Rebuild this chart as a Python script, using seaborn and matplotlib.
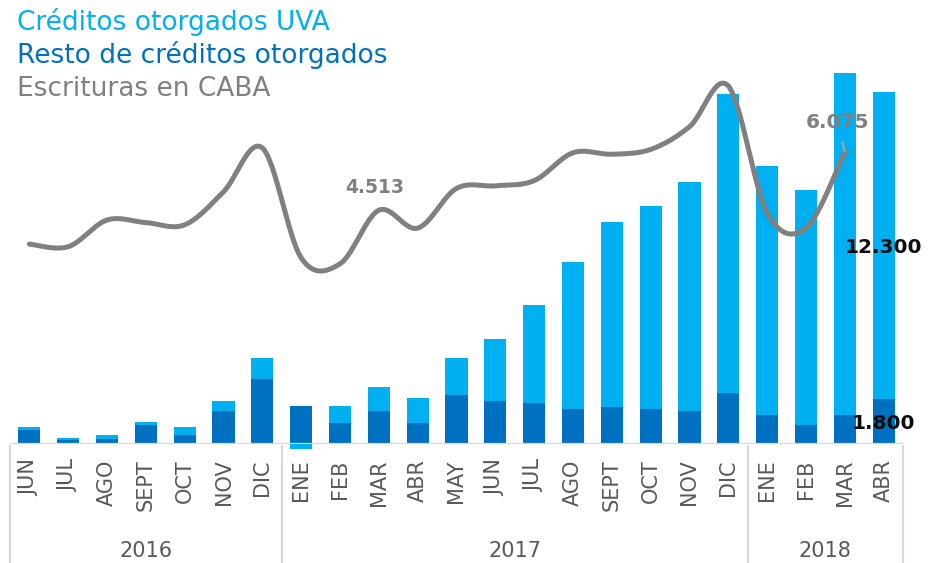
import numpy as np
import pandas as pd
import matplotlib
matplotlib.use("Agg")
import matplotlib.pyplot as plt
import matplotlib.transforms as mtransforms
import seaborn as sns

# ---- data -------------------------------------------------------------
months = ["JUN", "JUL", "AGO", "SEPT", "OCT", "NOV", "DIC",
          "ENE", "FEB", "MAR", "ABR", "MAY", "JUN", "JUL", "AGO", "SEPT", "OCT", "NOV", "DIC",
          "ENE", "FEB", "MAR", "ABR"]
years = ["2016"] * 7 + ["2017"] * 12 + ["2018"] * 4

# credits granted (units) by type
resto = [560, 160, 210, 770, 350, 1310, 2590,
         1520, 850, 1310, 850, 1950, 1730, 1630, 1410, 1490, 1410, 1310, 2050,
         1170, 770, 1170, 1800]
uva = [110, 80, 140, 110, 320, 410, 850,
       -180, 670, 960, 990, 1490, 2460, 3930, 5870, 7390, 8110, 9170, 11950,
       9950, 9390, 13680, 12300]

# deeds registered in CABA (no figure yet for the last month)
escrituras = [3600, 3530, 4250, 4180, 4120, 5010, 6190,
              3230, 3070, 4513, 4030, 5100, 5170, 5310, 6060, 6020, 6150, 6760, 7860,
              4440, 4030, 6075, None]

legend_items = ["Créditos otorgados UVA", "Resto de créditos otorgados", "Escrituras en CABA"]

# ---- style ------------------------------------------------------------
LIGHT = "#00B0F0"
DARK = "#0070C0"
GREY = "#808080"
TEXT = "#595959"
RULE = "#D9D9D9"

sns.set_theme(style="white")
plt.rcParams["font.family"] = ["DejaVu Sans"]


def fmt(v):
    return f"{int(v):,}".replace(",", ".")


def smooth_curve(values, steps=30):
    """Smoothed path through the points (cubic Bezier, Catmull-Rom handles)."""
    pts = np.column_stack([np.arange(len(values), dtype=float), np.asarray(values, dtype=float)])
    n = len(pts)
    t = np.linspace(0, 1, steps)[:, None]
    segs = []
    for i in range(n - 1):
        p0, p1 = pts[max(i - 1, 0)], pts[i]
        p2, p3 = pts[i + 1], pts[min(i + 2, n - 1)]
        c1 = p1 + (p2 - p0) / 6
        c2 = p2 - (p3 - p1) / 6
        seg = (1 - t) ** 3 * p1 + 3 * (1 - t) ** 2 * t * c1 + 3 * (1 - t) * t ** 2 * c2 + t ** 3 * p2
        segs.append(seg if i == 0 else seg[1:])
    return np.vstack(segs)


df = pd.DataFrame({
    "periodo": [f"{m} {y}" for m, y in zip(months, years)],
    "resto": resto,
    "uva": uva,
})
# negative values hang from zero, positive ones stack on top of "resto"
uva_base = np.where(np.array(uva) >= 0, np.array(resto), 0)

W, H = 942, 563
fig = plt.figure(figsize=(W / 100, H / 100), dpi=100)
ax = fig.add_axes([10 / W, (H - 444) / H, 893 / W, 404 / H])

# ---- stacked bars -----------------------------------------------------
sns.barplot(data=df, x="periodo", y="resto", color=DARK, saturation=1, width=0.57,
            errorbar=None, linewidth=0, ax=ax, zorder=2)
sns.barplot(data=df, x="periodo", y="uva", color=LIGHT, saturation=1, width=0.57,
            errorbar=None, linewidth=0, bottom=uva_base, ax=ax, zorder=2)
for p in ax.patches:
    p.set_clip_on(False)

n = len(months)
ax.set_xlim(-0.5, n - 0.5)
ax.set_ylim(0, 16160)
ax.set_xticks(range(n))
ax.set_xticklabels(months, rotation=90, color=TEXT, fontsize=15)
ax.tick_params(axis="x", length=0, pad=11)
ax.set_yticks([])
ax.set_xlabel("")
ax.set_ylabel("")
sns.despine(ax=ax, left=True, bottom=True)

ax.axhline(0, color=RULE, lw=1.6, zorder=3)

# year grouping under the month labels
trans = mtransforms.blended_transform_factory(ax.transData, fig.transFigure)
year_order = list(dict.fromkeys(years))
bounds = [-0.5]
for yr in year_order:
    idx = [i for i, y in enumerate(years) if y == yr]
    bounds.append(idx[-1] + 0.5)
    ax.text((idx[0] + idx[-1]) / 2, 6.3 / H, yr, transform=trans, ha="center", va="baseline",
            fontsize=15, color=TEXT)
for xb in bounds:
    ax.plot([xb, xb], [0, (H - 445) / H], transform=trans, color=RULE, lw=1.6,
            clip_on=False, solid_capstyle="butt")
ax.set_xlim(-0.5, n - 0.5)

# bar value labels on the last month
last = n - 1
ax.text(last, resto[last] / 2, fmt(resto[last]), ha="center", va="center_baseline",
        fontsize=14.5, fontweight="bold", color="#0D0D0D", zorder=4)
ax.text(last, resto[last] + uva[last] / 2, fmt(uva[last]), ha="center", va="center_baseline",
        fontsize=14.5, fontweight="bold", color="#0D0D0D", zorder=4)

# ---- deeds line (secondary scale) -------------------------------------
ax2 = ax.twinx()
valid = [v for v in escrituras if v is not None]
curve = smooth_curve(valid)
sns.lineplot(x=curve[:, 0], y=curve[:, 1], ax=ax2, color=GREY, lw=3.6, sort=False,
             estimator=None, legend=False, solid_capstyle="round")
ax2.set_ylim(-1783, 9097)
ax2.set_xlim(-0.5, n - 0.5)
ax2.set_yticks([])
ax2.set_ylabel("")
sns.despine(ax=ax2, left=True, bottom=True, right=True)

i_mar17 = 9
ax2.annotate(fmt(escrituras[i_mar17]), xy=(i_mar17, escrituras[i_mar17]), xytext=(-2.8, 12.2),
             textcoords="offset points", ha="center", va="baseline", fontsize=13.5,
             fontweight="bold", color=GREY)
i_end = len(valid) - 1
ax2.annotate(fmt(valid[i_end]), xy=(i_end, valid[i_end]), xytext=(-4.9, 17.3),
             textcoords="offset points", ha="center", va="baseline", fontsize=14.5,
             fontweight="bold", color=GREY,
             arrowprops=dict(arrowstyle="-", color="#A6A6A6", lw=1.6, shrinkA=5, shrinkB=1))

# ---- legend as coloured text -----------------------------------------
for label, color, base in zip(legend_items, [LIGHT, DARK, GREY], [30, 63, 96.5]):
    fig.text(17 / W, 1 - base / H, label, color=color, fontsize=19, va="baseline", ha="left")

fig.savefig("out.png", dpi=100)
